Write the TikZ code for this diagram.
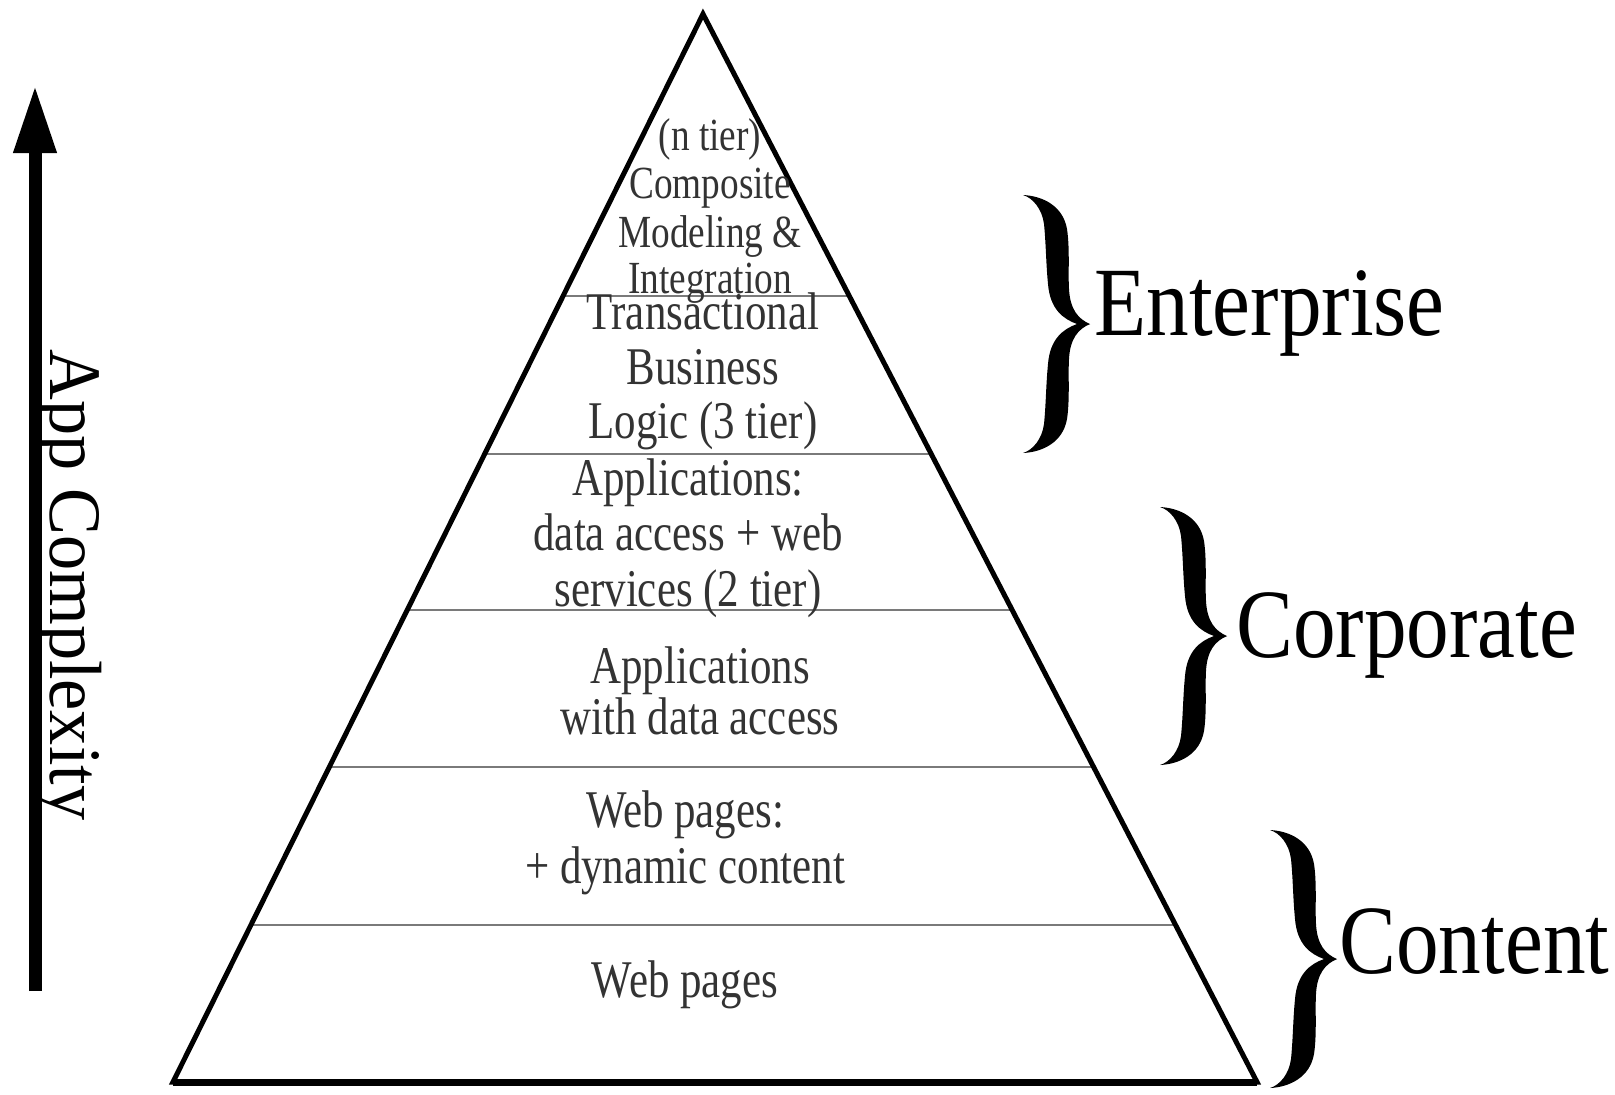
\documentclass[tikz,border=0pt]{standalone}
\usepackage{fontspec}
\setmainfont{Liberation Serif}
\newfontfamily\pyrfont[FakeStretch=0.81]{Liberation Serif}
\newfontfamily\labfont[FakeStretch=0.87]{Liberation Serif}
\newfontfamily\axfont[FakeStretch=0.95]{Liberation Serif}
\usetikzlibrary{calc,arrows.meta}
\definecolor{txtgray}{HTML}{333333}
\definecolor{tiergray}{HTML}{7A7A7A}
\begin{document}
\begin{tikzpicture}[x=0.5pt,y=-0.5pt,
  pyr/.style={draw=black,line width=2.5pt,line join=miter},
  tierline/.style={draw=tiergray,line width=1pt},
  ptext/.style={anchor=base,inner sep=0pt,text=txtgray,font=\pyrfont\fontsize{26.5}{27}\selectfont},
  ptop/.style={ptext,font=\pyrfont\fontsize{23}{24}\selectfont},
  grp/.style={anchor=base west,inner sep=0pt,font=\labfont\fontsize{49}{50}\selectfont},
  axlabel/.style={rotate=-90,anchor=base,inner sep=0pt,font=\axfont\fontsize{37}{38}\selectfont},
  axarrow/.style={line width=6.5pt,-{Triangle[width=20pt,length=34pt]}},
  curly/.pic={
    \foreach \s in {1,-1}{
      \fill[black,yscale=\s] (0,-129) .. controls (20,-128) and (40,-118) .. (44,-95)
        .. controls (47,-75) and (45,-50) .. (46,-35)
        .. controls (47,-15) and (55,-5) .. (67,0)
        -- (54,0) .. controls (40,-5) and (27,-15) .. (25,-40)
        .. controls (23,-60) and (23,-80) .. (21,-100)
        .. controls (19,-115) and (10,-126) .. (0,-129) -- cycle;
    }
  }
]
\useasboundingbox[fill=white] (0,0) rectangle (1615,1094);

% pyramid corners
\coordinate (apex) at (703,14);
\coordinate (bl) at (173,1082);
\coordinate (br) at (1257,1082);

% tier separators
\foreach \t in {0.264,0.412,0.558,0.705,0.853}{
  \draw[tierline] ($(apex)!\t!(bl)$) -- ($(apex)!\t!(br)$);
}

% pyramid outline
\draw[pyr] (apex) -- (bl) -- (br) -- cycle;
\draw[line width=3.5pt] (bl) -- (br);

% tier 1
\node[ptop] (t1a) at (710,150) {(n tier)};
\node[ptop] (t1b) at (710,198) {Composite};
\node[ptop] (t1c) at (710,247) {Modeling \&};
\node[ptop] (t1d) at (710,293) {Integration};
% tier 2
\node[ptext] (t2a) at (703,329) {Transactional};
\node[ptext] (t2b) at (703,384) {Business};
\node[ptext] (t2c) at (703,438) {Logic (3 tier)};
% tier 3
\node[ptext] (t3a) at (688,495) {Applications:};
\node[ptext] (t3b) at (688,550) {data access + web};
\node[ptext] (t3c) at (688,606) {services (2 tier)};
% tier 4
\node[ptext] (t4a) at (700,683) {Applications};
\node[ptext] (t4b) at (700,734) {with data access};
% tier 5
\node[ptext] (t5a) at (685,827) {Web pages:};
\node[ptext] (t5b) at (685,883) {+ dynamic content};
% tier 6
\node[ptext] (t6a) at (685,997) {Web pages};

% braces and group labels
\pic (b1) at (1023,324) {curly};
\pic (b2) at (1160,636) {curly};
\pic (b3) at (1270,959) {curly};
\node[grp] (g1) at (1094,335) {Enterprise};
\node[grp] (g2) at (1236,657) {Corporate};
\node[grp] (g3) at (1339,973) {Content};

% complexity axis
\coordinate (abot) at (35,991);
\coordinate (atop) at (35,85);
\draw[axarrow] (abot) -- (atop);
\node[axlabel] (ax) at (50,585) {App Complexity};
\end{tikzpicture}
\end{document}
